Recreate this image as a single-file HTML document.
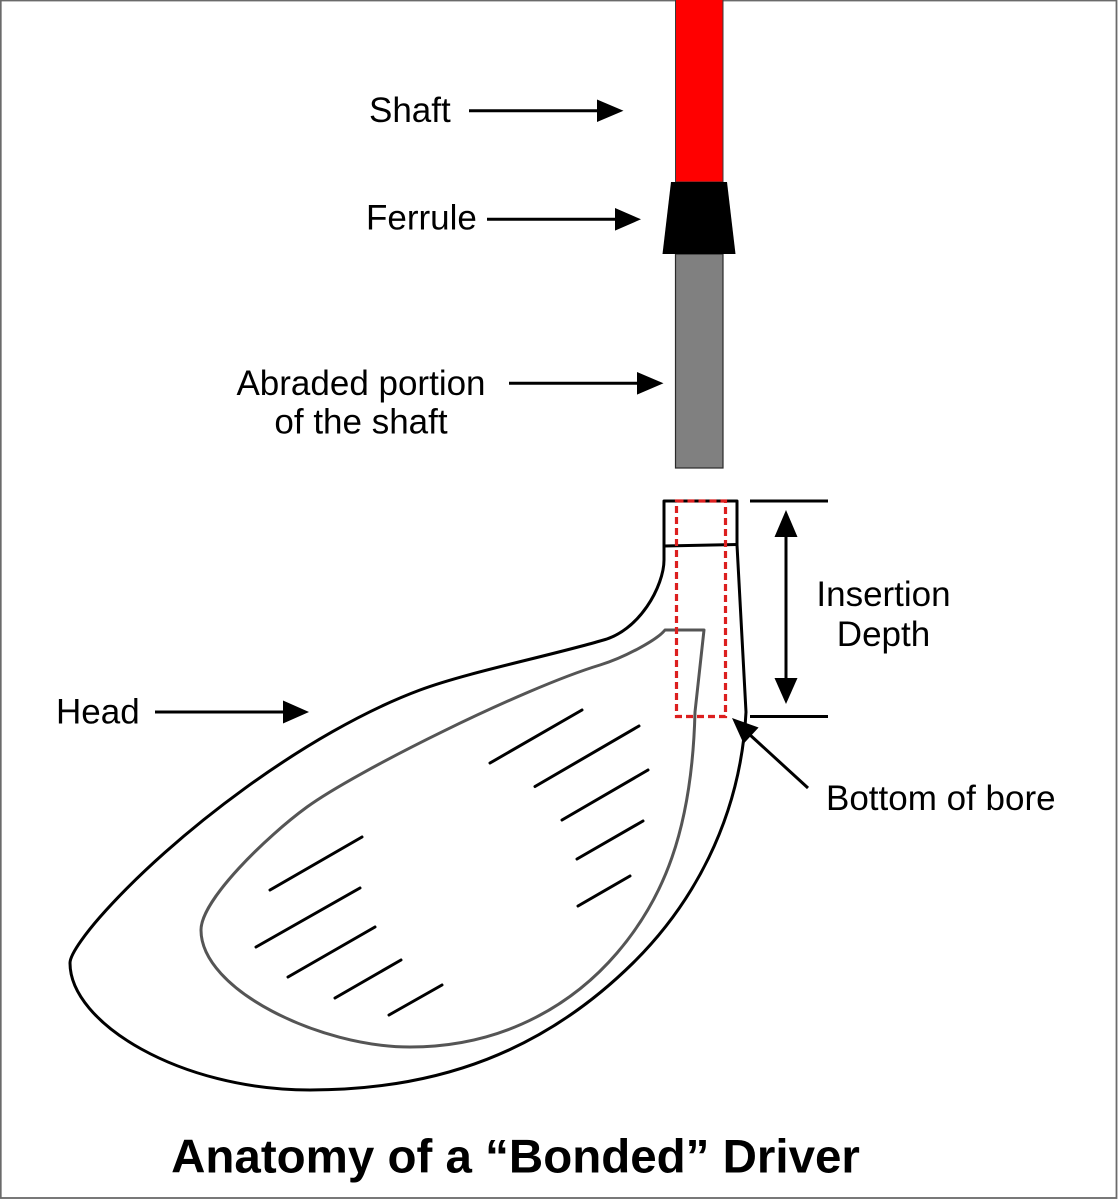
<!DOCTYPE html>
<html>
<head>
<meta charset="utf-8">
<style>
  html, body { margin: 0; padding: 0; background: #ffffff; }
  body { width: 1119px; height: 1200px; overflow: hidden; }
  svg { display: block; }
  text { font-family: "Liberation Sans", Arial, sans-serif; fill: #000; }
</style>
</head>
<body>
<svg width="1119" height="1200" viewBox="0 0 1119 1200" xmlns="http://www.w3.org/2000/svg">
  <!-- page border -->
  <rect x="0.75" y="0.5" width="1115.75" height="1197.5" fill="#ffffff" stroke="#6a6a6a" stroke-width="1.8"/>

  <!-- Shaft (red) -->
  <rect x="675.5" y="-1" width="47.5" height="183" fill="#ff0000" stroke="#3a3a3a" stroke-width="1"/>
  <!-- Abraded portion (gray) -->
  <rect x="675.5" y="254" width="47.5" height="214" fill="#808080" stroke="#2a2a2a" stroke-width="1.2"/>
  <!-- Ferrule -->
  <polygon points="671,182 727,182 735.5,254 662.5,254" fill="#000"/>

  <!-- Head outer outline -->
  <path d="M 664,501 L 737,501 L 737,545 L 746,712
           C 740.5,822 689.8,907 633,963
           C 544.25,1050.5 440,1090 310,1090
           C 180,1090 70,1023 70,963
           C 70,953 90.1,928.3 100,917
           C 172.6,834.5 307.2,732 420,690
           C 467,672.5 547.2,656.4 600,641
           C 640,632 664,585 664,560
           L 664,501 Z"
        fill="none" stroke="#000" stroke-width="3" stroke-linejoin="round"/>
  <!-- hosel ring line -->
  <line x1="664" y1="546" x2="737" y2="544.5" stroke="#000" stroke-width="3"/>

  <!-- Head inner (face) outline -->
  <path d="M 665,630 L 704,630 L 695,712
           C 692,832 662.5,899.8 617,953
           C 578,998.6 510,1047 410,1047
           C 320,1047 201,990 201,930
           C 201,900 266.5,836.5 307,807
           C 355.6,771.6 523.2,688.2 600,665
           C 624,657.75 657,640 665,630 Z"
        fill="none" stroke="#555555" stroke-width="3" stroke-linejoin="round"/>

  <!-- Score lines -->
  <g stroke="#000" stroke-width="3" stroke-linecap="round">
    <line x1="270" y1="890" x2="362" y2="837"/>
    <line x1="256" y1="947" x2="360" y2="888"/>
    <line x1="288" y1="977" x2="375" y2="927"/>
    <line x1="335" y1="998" x2="401" y2="960"/>
    <line x1="389" y1="1015" x2="442" y2="985"/>
    <line x1="490" y1="763" x2="582" y2="710"/>
    <line x1="535" y1="786.5" x2="639" y2="726"/>
    <line x1="562" y1="820" x2="648" y2="770"/>
    <line x1="577" y1="859" x2="643" y2="821"/>
    <line x1="578" y1="906" x2="630" y2="876"/>
  </g>

  <!-- Red dashed bore -->
  <rect x="676.5" y="501" width="49" height="215.5" fill="none" stroke="#dc1f1f" stroke-width="3.2" stroke-dasharray="7 4"/>

  <!-- Insertion depth markers -->
  <g stroke="#000" stroke-width="3">
    <line x1="750" y1="501" x2="828" y2="501"/>
    <line x1="750" y1="716.5" x2="828" y2="716.5"/>
    <line x1="786" y1="530" x2="786" y2="685"/>
  </g>
  <polygon points="786,510 797.5,537 774.5,537" fill="#000"/>
  <polygon points="786,704 797.5,678 774.5,678" fill="#000"/>

  <!-- Label arrows -->
  <g stroke="#000" stroke-width="3">
    <line x1="469" y1="110.7" x2="600" y2="110.7"/>
    <line x1="487" y1="219.3" x2="618" y2="219.3"/>
    <line x1="509" y1="383.3" x2="640" y2="383.3"/>
    <line x1="155" y1="712" x2="286" y2="712"/>
    <line x1="808" y1="788" x2="749" y2="734"/>
  </g>
  <polygon points="597,99.5 623.5,110.7 597,122" fill="#000"/>
  <polygon points="615,208 641,219.3 615,230.6" fill="#000"/>
  <polygon points="637,372 663.5,383.3 637,394.6" fill="#000"/>
  <polygon points="283,700.5 309,712 283,723.5" fill="#000"/>
  <polygon points="732,718 758.6,727.5 743.6,743.7" fill="#000"/>

  <!-- Labels -->
  <text x="369" y="122" font-size="35">Shaft</text>
  <text x="366" y="229.5" font-size="35">Ferrule</text>
  <text x="361" y="395" font-size="35" text-anchor="middle">Abraded portion</text>
  <text x="361" y="433.5" font-size="35" text-anchor="middle">of the shaft</text>
  <text x="56" y="723.5" font-size="35">Head</text>
  <text x="883.5" y="606" font-size="35" text-anchor="middle">Insertion</text>
  <text x="883.5" y="646" font-size="35" text-anchor="middle">Depth</text>
  <text x="826" y="810" font-size="35">Bottom of bore</text>

  <!-- Title -->
  <text x="515.5" y="1172.5" font-size="47.5" font-weight="bold" text-anchor="middle">Anatomy of a “Bonded” Driver</text>
</svg>
</body>
</html>
